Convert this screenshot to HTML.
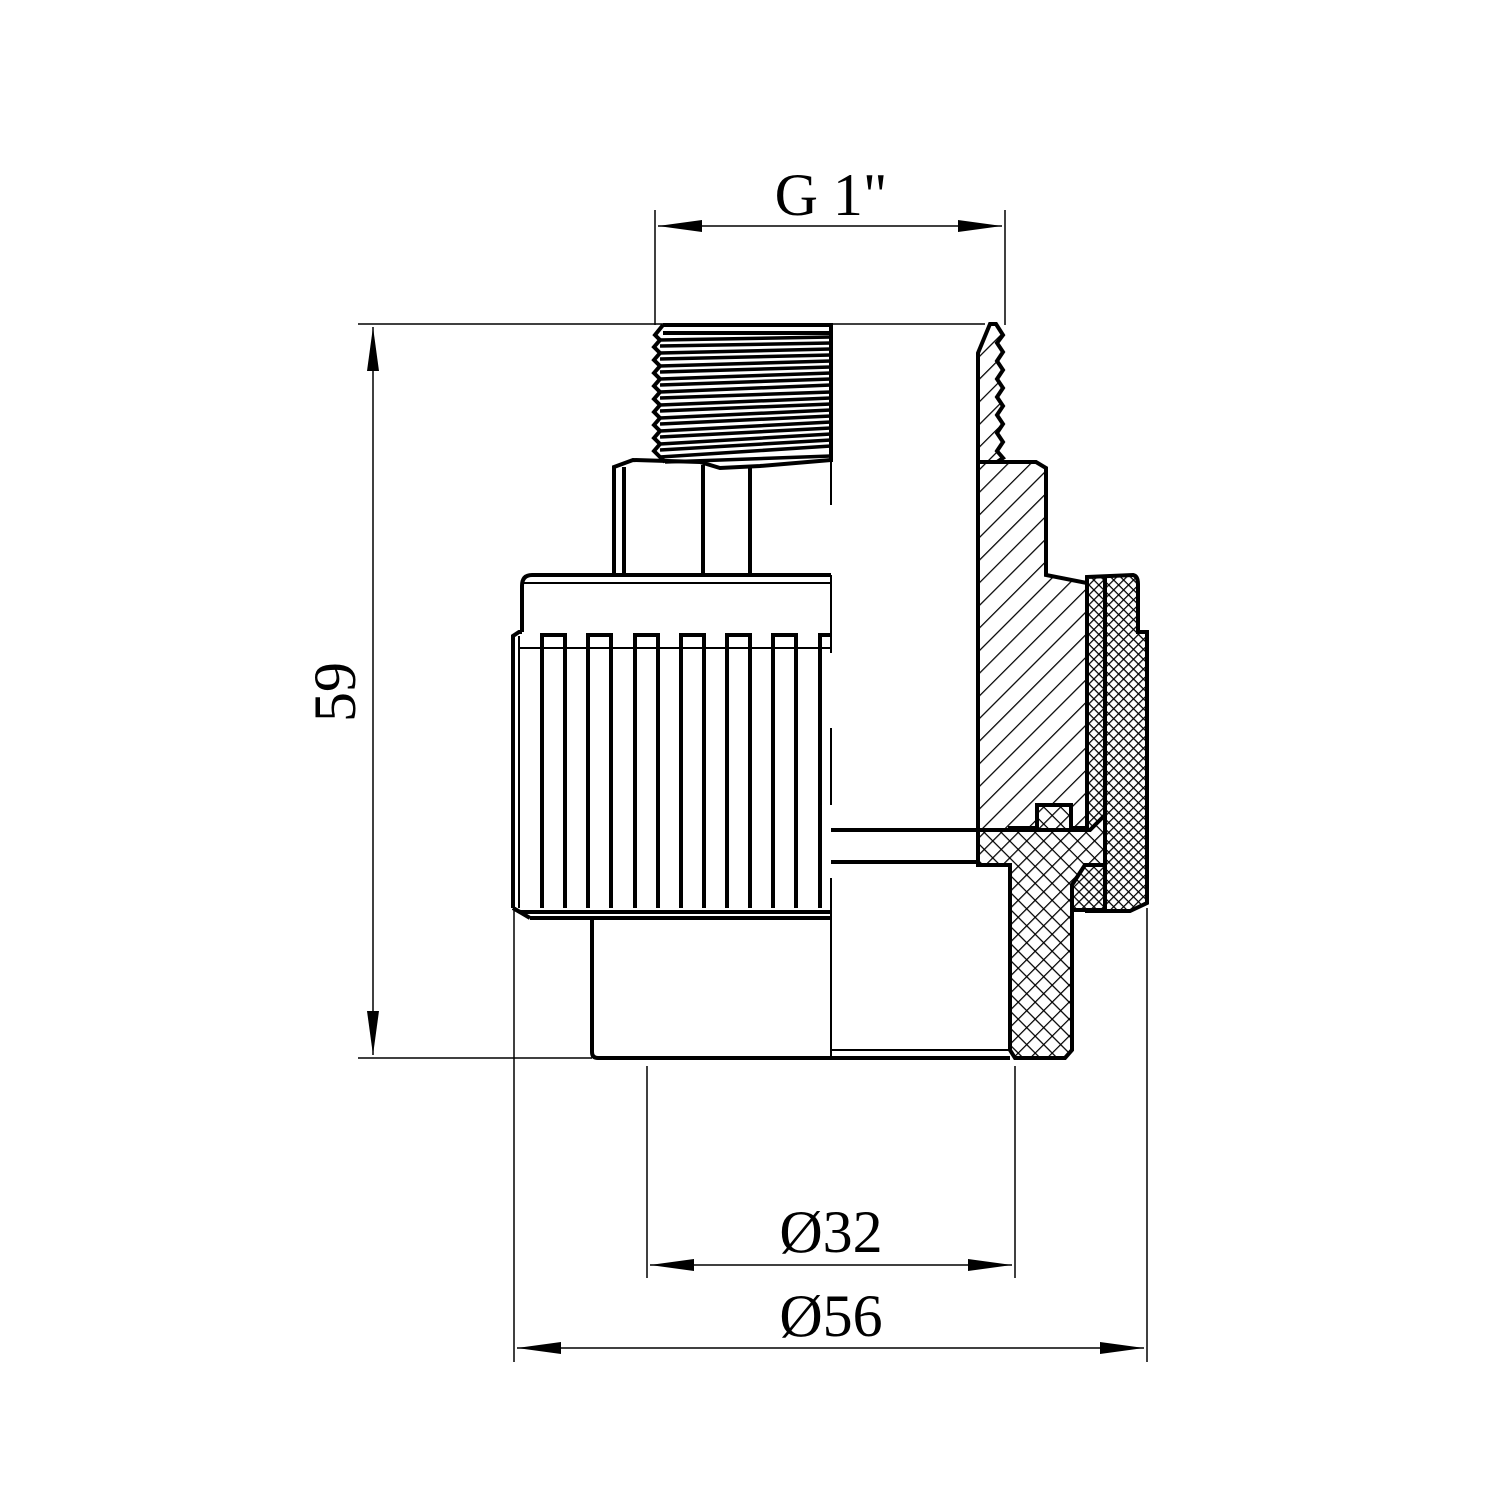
<!DOCTYPE html>
<html><head><meta charset="utf-8"><style>html,body{margin:0;padding:0;background:#fff}svg{display:block}</style></head>
<body>
<svg width="1500" height="1500" viewBox="0 0 1500 1500" xmlns="http://www.w3.org/2000/svg">
<defs>
<pattern id="h1" patternUnits="userSpaceOnUse" width="16" height="16" patternTransform="rotate(45)">
<rect width="16" height="16" fill="#fff"/><line x1="0" y1="0" x2="0" y2="16" stroke="#000" stroke-width="2.5"/></pattern>
<pattern id="x1" patternUnits="userSpaceOnUse" width="12" height="12" patternTransform="rotate(45)">
<rect width="12" height="12" fill="#fff"/><line x1="0" y1="0" x2="0" y2="12" stroke="#000" stroke-width="2.5"/><line x1="0" y1="0" x2="12" y2="0" stroke="#000" stroke-width="2.5"/></pattern>
<pattern id="x2" patternUnits="userSpaceOnUse" width="7" height="7" patternTransform="rotate(45)">
<rect width="7" height="7" fill="#fff"/><line x1="0" y1="0" x2="0" y2="7" stroke="#000" stroke-width="2.5"/><line x1="0" y1="0" x2="7" y2="0" stroke="#000" stroke-width="2.5"/></pattern>
<marker id="ar" markerWidth="44" markerHeight="14" refX="44" refY="7" orient="auto-start-reverse" markerUnits="userSpaceOnUse">
<path d="M0,1 L44,7 L0,13 Z" fill="#000"/></marker>
</defs>
<g stroke="#000" fill="none">
<g stroke-width="1.5">
<line x1="655" y1="210" x2="655" y2="325"/><line x1="1005" y1="210" x2="1005" y2="325"/>
<line x1="658" y1="226" x2="1002" y2="226" marker-start="url(#ar)" marker-end="url(#ar)"/>
<line x1="358" y1="324" x2="985" y2="324"/><line x1="358" y1="1058" x2="592" y2="1058"/>
<line x1="373" y1="327" x2="373" y2="1055" marker-start="url(#ar)" marker-end="url(#ar)"/>
<line x1="647" y1="1066" x2="647" y2="1278"/><line x1="1015" y1="1066" x2="1015" y2="1278"/>
<line x1="650" y1="1265" x2="1012" y2="1265" marker-start="url(#ar)" marker-end="url(#ar)"/>
<line x1="514" y1="910" x2="514" y2="1362"/><line x1="1147" y1="908" x2="1147" y2="1362"/>
<line x1="517" y1="1348" x2="1144" y2="1348" marker-start="url(#ar)" marker-end="url(#ar)"/>
</g>
<g stroke-width="2">
<line x1="831" y1="325" x2="831" y2="505"/>
<line x1="831" y1="575" x2="831" y2="653"/>
<line x1="831" y1="728" x2="831" y2="805"/>
<line x1="831" y1="878" x2="831" y2="1058"/>
</g>
<g stroke-width="4">
<path d="M663,325 L831,325 L831,462 M663,325 L655,335 L660,340 L654,347 L660,353 L654,360 L660,366 L654,373 L660,379 L654,386 L660,392 L654,399 L660,405 L654,412 L660,418 L654,425 L660,431 L654,438 L660,444 L654,451 L660,457 L665,462"/>
<line x1="663" y1="333" x2="831" y2="333"/>
</g>
<g stroke-width="3.5">
<path d="M660,340 L831,337 M660,353 L831,349 M660,366 L831,361 M660,379 L831,373 M660,392 L831,385 M660,405 L831,398 M660,418 L831,410 M660,431 L831,422 M660,444 L831,434 M660,457 L831,446 M665,462 L831,456"/>
<path d="M660,346 L831,343 M660,359 L831,355 M660,372 L831,367 M660,385 L831,379 M660,398 L831,392 M660,411 L831,404 M660,424 L831,416 M660,437 L831,428 M660,450 L831,440"/>
</g>
<g stroke-width="4">
<path d="M614,575 L614,467 L633,460 L700,462 L720,468 L760,466 L831,460"/>
<line x1="624" y1="467" x2="624" y2="575"/>
<line x1="703" y1="465" x2="703" y2="575"/>
<line x1="750" y1="466" x2="750" y2="575"/>
</g>
<path d="M978,462 L978,860 L1010,860 L1010,828 L1087,828 L1087,583 L1046,575 L1046,468 L1036,462 Z" fill="url(#h1)" stroke-width="4"/>
<path d="M978,462 L978,353 L990,324 L996,324 L1003,335 L997,343 L1003,352 L997,361 L1003,370 L997,379 L1003,388 L997,397 L1003,406 L997,415 L1003,424 L997,433 L1003,442 L997,451 L1003,458 L997,462 Z" fill="url(#h1)" stroke-width="4"/>
<path d="M1087,577 L1133,575 Q1138,576 1138,584 L1138,632 L1147,632 L1147,903 L1130,911 L1087,911 Z" fill="url(#x2)" stroke-width="4"/>
<line x1="1105" y1="578" x2="1105" y2="905" stroke-width="4"/>
<path d="M978,830 L1090,830 L1105,815 L1105,865 L1085,865 L1072,885 L1072,1050 L1065,1058 L1015,1058 L1010,1050 L1010,865 L978,865 Z" fill="url(#x1)" stroke-width="4"/>
<path d="M1085,865 L1105,865 L1105,910 L1072,910 L1072,885 Z" fill="url(#x2)" stroke-width="4"/>
<rect x="1037" y="805" width="34" height="25" fill="url(#x1)" stroke-width="4"/>
<line x1="831" y1="830" x2="978" y2="830" stroke-width="4"/>
<line x1="831" y1="862" x2="978" y2="862" stroke-width="4"/>
<g stroke-width="4">
<path d="M522,632 L522,586 Q522,575 532,575 L831,575"/>
<line x1="522" y1="583" x2="831" y2="583" stroke-width="2"/>
<path d="M513,908 L513,636 L519,632 L522,632"/>
<line x1="519" y1="636" x2="519" y2="908" stroke-width="2"/>
<line x1="519" y1="648" x2="831" y2="648" stroke-width="2"/>
<path d="M513,908 L520,912 L831,912"/>
<line x1="530" y1="918" x2="831" y2="918"/>
<path d="M513,908 L530,918"/>
<path d="M542,908 L542,635 L565,635 L565,908"/>
<path d="M588,908 L588,635 L611,635 L611,908"/>
<path d="M635,908 L635,635 L658,635 L658,908"/>
<path d="M681,908 L681,635 L704,635 L704,908"/>
<path d="M727,908 L727,635 L750,635 L750,908"/>
<path d="M773,908 L773,635 L796,635 L796,908"/>
<path d="M820,908 L820,635 L831,635"/>
<path d="M592,918 L592,1052 Q592,1058 598,1058 L1010,1058"/>
</g>
<line x1="831" y1="1050" x2="1010" y2="1050" stroke-width="2"/>
</g>
<g font-family="'Liberation Serif', serif" font-size="60" fill="#000" text-anchor="middle">
<text x="831" y="215">G 1"</text>
<text x="831" y="1252">Ø32</text>
<text x="831" y="1336">Ø56</text>
<text transform="translate(355,692) rotate(-90)">59</text>
</g>
</svg>
</body></html>
